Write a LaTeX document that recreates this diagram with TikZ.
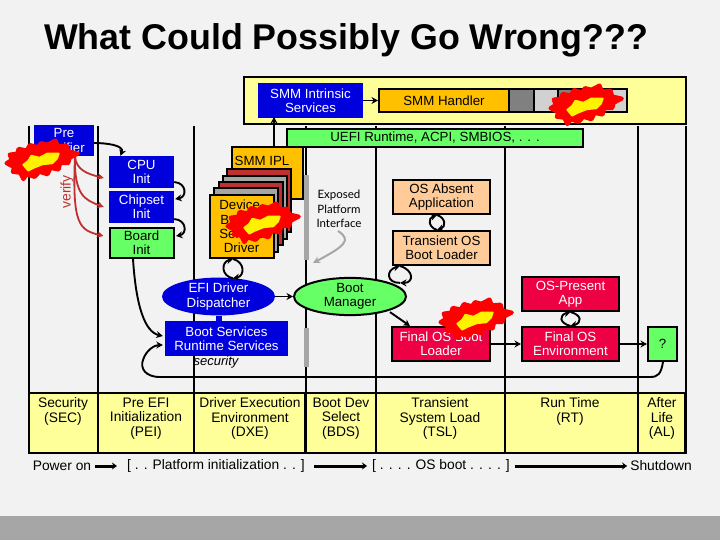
\documentclass[tikz,border=0pt]{standalone}
\usepackage{fontspec}
\setmainfont{Liberation Sans}
\newfontfamily\handfont{Lato}
\usetikzlibrary{arrows.meta,calc,shapes.geometric}
\definecolor{bgc}{HTML}{F2F2F2}
\definecolor{bandc}{HTML}{A6A6A6}
\definecolor{paley}{HTML}{FFFF99}
\definecolor{blueb}{HTML}{0000DD}
\definecolor{greenb}{HTML}{66FF66}
\definecolor{orangeb}{HTML}{FFC000}
\definecolor{peachb}{HTML}{FFCC99}
\definecolor{crimb}{HTML}{EE0044}
\definecolor{redarrow}{HTML}{C03030}
\definecolor{stackred}{HTML}{C03030}
\definecolor{stackgray}{HTML}{A6A6A6}
\newcommand\bx[7]{%
  \pgfmathsetmacro\bxw{#4-#2}\pgfmathsetmacro\bxh{#5-#3}%
  \pgfmathsetmacro\bxx{(#2+#4)/2}\pgfmathsetmacro\bxy{(#3+#5)/2}%
  \node[#6,minimum width=\bxw pt,minimum height=\bxh pt] (#1) at (\bxx,\bxy) {#7};}
\tikzset{
  x=1pt,y=-1pt,
  txt/.style={font=\fontsize{13.3}{14.4}\selectfont,align=center,inner sep=0pt},
  ttxt/.style={font=\fontsize{13.8}{14.6}\selectfont,align=center,inner sep=0pt},
  edge/.style={line width=2pt,draw=black},
  bluebox/.style={txt,fill=blueb,text=white},
  greenbox/.style={txt,edge,fill=greenb},
  orangebox/.style={txt,edge,fill=orangeb},
  peachbox/.style={txt,edge,fill=peachb},
  crimbox/.style={txt,edge,fill=crimb,text=white},
  cell/.style={ttxt,line width=2.6pt,draw=black,fill=paley,anchor=center},
  arr/.style={line width=1.9pt,-{Stealth[length=6.5pt,width=7pt]}},
  thickarr/.style={line width=3pt,-{Stealth[length=5pt,width=7pt]}},
  redarr/.style={line width=1.8pt,draw=redarrow,-{Stealth[length=6.5pt,width=6.5pt,fill=redarrow]}},
  vline/.style={line width=2pt},
  graybar/.style={line width=4.5pt,draw=bandc},
  boom/.pic={
    \begin{scope}[scale=.32,shift={(-163,-75)}]
    \filldraw[red,line width=4pt,line join=round] (52,85)--(68,75)--(62,58)--(85,55)--(90,40)--(115,45)--(125,28)--(150,35)--(160,22)--(180,27)--(205,14)--(213,32)--(240,30)--(245,48)--(275,55)--(250,68)--(245,85)--(220,85)--(215,105)--(190,100)--(180,120)--(155,112)--(140,128)--(115,120)--(105,135)--(95,115)--(72,112)--(75,97)--cycle;
    \filldraw[yellow,line width=2pt,line join=round] (105,90)--(120,78)--(130,62)--(155,68)--(180,55)--(215,55)--(210,70)--(195,85)--(165,88)--(135,100)--(120,108)--cycle;
    \end{scope}
  }
}
\begin{document}
\begin{tikzpicture}
\useasboundingbox (0,0) rectangle (720,540);
\fill[bgc] (0,0) rectangle (720,540);
\fill[bandc] (0,516) rectangle (720,540);

\node[font=\bfseries\fontsize{35.8}{38}\selectfont,anchor=west,inner sep=0pt] (title) at (44,40.5) {What Could Possibly Go Wrong???};

% phase columns
\coordinate (v1t) at (29,126);\coordinate (v1b) at (29,393);
\coordinate (v2t) at (98,126);\coordinate (v2b) at (98,393);
\coordinate (v3t) at (194,126);\coordinate (v3b) at (194,393);
\coordinate (v4t) at (305.5,126);\coordinate (v4b) at (305.5,393);
\coordinate (v5t) at (376,126);\coordinate (v5b) at (376,393);
\coordinate (v6t) at (505,126);\coordinate (v6b) at (505,393);
\coordinate (v7t) at (638,126);\coordinate (v7b) at (638,393);
\coordinate (v8t) at (685.5,126);\coordinate (v8b) at (685.5,393);
\foreach \k in {1,...,8}{\draw[vline] (v\k t) -- (v\k b);}

% phase table
\bx{sec}{29}{393}{98}{453}{cell}{}
\bx{pei}{98}{393}{194}{453}{cell}{}
\bx{dxe}{194}{393}{305.5}{453}{cell}{}
\bx{bds}{305.5}{393}{376}{453}{cell}{}
\bx{tsl}{376}{393}{505}{453}{cell}{}
\bx{rt}{505}{393}{638}{453}{cell}{}
\bx{al}{638}{393}{685.5}{453}{cell}{}
\node[ttxt,anchor=north] (sect) at (63,397.5) {Security\\(SEC)};
\node[ttxt,anchor=north] (peit) at (146,397.5) {Pre EFI\\Initialization\\(PEI)};
\node[ttxt,anchor=north] (dxet) at (250,397.5) {Driver Execution\\Environment\\(DXE)};
\node[ttxt,anchor=north] (bdst) at (341,397.5) {Boot Dev\\Select\\(BDS)};
\node[ttxt,anchor=north] (tslt) at (440,397.5) {Transient\\System Load\\(TSL)};
\node[ttxt,anchor=north] (rtt) at (570,397.5) {Run Time\\(RT)};
\node[ttxt,anchor=north] (alt) at (662,397.5) {After\\Life\\(AL)};

% timeline
\node[ttxt] (pwr) at (62,466) {Power on};
\node[ttxt] (plat) at (216,466) {[ . . Platform initialization . . ]};
\node[ttxt] (osb) at (441,466) {[ . . . . OS boot . . . . ]};
\node[ttxt] (shut) at (661,466) {Shutdown};
\draw[thickarr] ($(pwr.east)+(4,0)$) -- ($(plat.west)+(-10,0)$);
\draw[thickarr] ($(plat.east)+(9,0)$) -- ($(osb.west)+(-5,0)$);
\draw[thickarr] ($(osb.east)+(5,0)$) -- ($(shut.west)+(-3,0)$);

% SMM band
\bx{smm}{243.5}{77.5}{686}{124}{edge,fill=paley}{}
\bx{smmis}{258}{83}{363}{118}{bluebox}{SMM Intrinsic\\Services}
\bx{handler}{379}{89}{509}{112}{orangebox}{SMM Handler}
\bx{h1}{509}{89}{534}{112}{edge,fill=gray}{}
\bx{h2}{534}{89}{558}{112}{edge,fill=black!18}{}
\bx{h3}{558}{89}{592}{112}{edge,fill=gray}{}
\bx{h4}{592}{89}{627}{112}{edge,fill=black!18}{}
\draw[arr] (smmis.east) -- (handler.west);

\bx{uefi}{287}{129}{583}{147}{greenbox}{UEFI Runtime, ACPI, SMBIOS, . . .}

% SEC / PEI
\bx{pre}{34}{125}{94}{156}{bluebox}{Pre\\Verifier}
\bx{cpu}{109}{156}{174}{188}{bluebox}{CPU\\Init}
\bx{chip}{109}{191}{174}{223}{bluebox}{Chipset\\Init}
\bx{board}{109.5}{228}{173.5}{258}{greenbox}{Board\\Init}
\draw[arr] ($(pre.east)+(0,2.5)$) to[out=0,in=70,looseness=1] ($(cpu.north)+(-21,0)$);
\draw[arr] ($(cpu.east)+(0,10)$) .. controls (187,183) and (187,197) .. ($(chip.east)+(1,-8)$);
\draw[arr] ($(chip.east)+(0,12)$) .. controls (187,220) and (187,234) .. ($(board.east)+(1.5,-7)$);
\draw[redarr] ($(pre.south)+(11,0)$) .. controls +(1,14) and +(-16,-4) .. ($(cpu.west)+(-5,6)$);
\draw[redarr] ($(pre.south)+(11,0)$) .. controls +(-1,39) and +(-19,-7) .. ($(chip.west)+(-5,0)$);
\draw[redarr] ($(pre.south)+(11,0)$) .. controls +(-3,69) and +(-24,-6) .. ($(board.west)+(-5,-7)$);
\node[font=\fontsize{14}{14}\selectfont,text=redarrow,rotate=90,inner sep=0pt] (verify) at (67,192) {verify};

% DXE
\bx{ipl}{232}{147}{303}{199}{orangebox}{}
\node[txt] (iplt) at (262,161) {SMM IPL};
\draw[arr] ($(ipl.north)+(6.5,0)$) -- ($(ipl.north)+(6.5,-29)$);
\bx{s4}{227}{169}{291}{232}{edge,fill=stackred}{}
\bx{s3}{223}{176}{287}{238.5}{edge,fill=stackgray}{}
\bx{s2}{218.5}{182}{282.5}{245}{edge,fill=stackred}{}
\bx{s1}{214}{188.5}{278}{251.5}{edge,fill=stackgray}{}
\bx{drv}{209.5}{195}{273.5}{258}{orangebox}{Device,\\Bus, or\\Service\\Driver}
\draw[graybar] (306.5,175) -- (306.5,260);
\draw[graybar] (306.5,328) -- (306.5,367);
\node[font=\handfont\fontsize{11.5}{14.2}\selectfont,align=center,inner sep=0pt] (epi) at (339,209) {Exposed\\Platform\\Interface};
\coordinate (g0) at (338,231);\coordinate (g1) at (313,263);
\draw[line width=2pt,draw=bandc,-{Stealth[length=7pt,width=7pt]}] (g0) .. controls (352,240) and (345,246) .. (g1);

\node[ellipse,bluebox,minimum width=113pt,minimum height=33pt] (efi) at (218.5,296.5) {EFI Driver\\Dispatcher};
\bx{bs}{165}{321}{288}{356}{bluebox}{Boot Services\\Runtime Services}
\draw[line width=6pt,draw=blueb] (efi.south) -- (efi.south |- bs.north);
\node[font=\itshape\fontsize{13}{14}\selectfont,inner sep=0pt] (sec2) at (216,362.5) {security};
\draw[arr] ($(efi.north)+(14.5,1)$) .. controls (221,276) and (221,262) .. ($(drv.south)+(-8.5,0)$);
\draw[arr] ($(drv.south)+(-8.5,0)$) .. controls (245,262) and (245,276) .. ($(efi.north)+(14.5,1)$);

\node[ellipse,greenbox,minimum width=112pt,minimum height=31pt] (bm) at (350,296.5) {Boot\\Manager};
\draw[arr] (efi.east) -- (bm.west);

% TSL
\bx{osabs}{393}{180}{490}{214}{peachbox}{OS Absent\\Application}
\bx{tos}{393}{231}{490}{265}{peachbox}{Transient OS\\Boot Loader}
\bx{fl}{392}{327}{490}{361}{crimbox}{Final OS Boot\\Loader}
\draw[arr] ($(bm.north)+(50,6)$) .. controls (386,283) and (386,270) .. ($(tos.south)+(-41.5,0)$);
\draw[arr] ($(tos.south)+(-41.5,0)$) .. controls (414,270) and (414,283) .. ($(bm.north)+(50,6)$);
\draw[arr] ($(bm.south)+(40,-4)$) -- ($(fl.north)+(-31,0)$);
\draw[arr] ($(tos.north)+(-4.5,0)$) .. controls (428,227) and (428,218) .. ($(osabs.south)+(-4.5,0)$);
\draw[arr] ($(osabs.south)+(-4.5,0)$) .. controls (446,218) and (446,227) .. ($(tos.north)+(-4.5,0)$);

% RT / AL
\bx{osp}{522}{277}{619}{311}{crimbox}{OS-Present\\App}
\bx{fe}{522}{327}{619}{361}{crimbox}{Final OS\\Environment}
\bx{q}{648}{327}{677}{361}{greenbox}{?}
\draw[arr] (fl.east) -- (fe.west);
\draw[arr] (fe.east) -- (q.west);
\draw[arr] (fe.north) .. controls (559,323) and (559,315) .. (osp.south);
\draw[arr] (osp.south) .. controls (582,315) and (582,323) .. (fe.north);

% long connectors
\draw[arr] ($(board.south)+(-8.5,0)$) .. controls +(3,47) and +(-18,-4) .. ($(bs.west)+(-2,-2.5)$);
\draw[arr] ($(q.south)+(0.5,0)$) .. controls +(-2,12) and +(8,0) .. (650,377) -- (160,377) .. controls (145,377) and (140,368) .. (143,360) .. controls (146,350) and (155,345) .. ($(bs.west)+(-2,6.5)$);

% explosions
\pic at (42,160) {boom};
\pic at (263,223) {boom};
\pic at (586,105) {boom};
\pic at (476,319) {boom};
\end{tikzpicture}
\end{document}
